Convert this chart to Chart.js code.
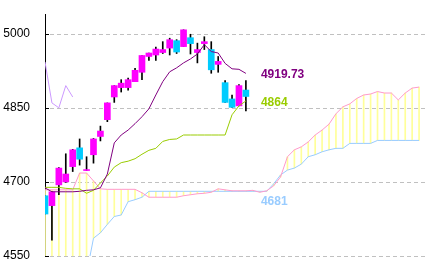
<!DOCTYPE html>
<html>
<head>
<meta charset="utf-8">
<script src="https://cdn.jsdelivr.net/npm/chart.js@4/dist/chart.umd.min.js"></script>
<style>
  body { margin: 0; background: #fff; }
</style>
</head>
<body>
<canvas id="chart" width="432" height="270"></canvas>
<script>
// daily candles, index 0..29
const opens  = [4672, 4652, 4694, 4700, 4731, 4769, 4723, 4755, 4792, 4826, 4872, 4891, 4891, 4903, 4922, 4954, 4957, 4962, 4971, 4986, 4974, 4992, 4962, 4980, 4968, 4938, 4901, 4868, 4854, 4886];
const highs  = [4672, 4681, 4729, 4757, 4766, 4787, 4751, 4788, 4813, 4860, 4895, 4907, 4910, 4930, 4956, 4961, 4973, 4984, 4991, 4988, 5008, 4999, 4981, 4994, 4984, 4954, 4905, 4876, 4897, 4905];
const lows   = [4635, 4582, 4674, 4699, 4721, 4734, 4723, 4738, 4783, 4822, 4861, 4882, 4886, 4903, 4907, 4946, 4946, 4960, 4957, 4960, 4974, 4959, 4941, 4968, 4920, 4922, 4861, 4851, 4854, 4844];
const closes = [4635, 4680, 4728, 4716, 4765, 4746, 4725, 4787, 4803, 4860, 4895, 4900, 4907, 4926, 4956, 4961, 4969, 4968, 4988, 4963, 5008, 4980, 4968, 4984, 4927, 4944, 4861, 4851, 4895, 4873];

// ichimoku lines
const tenkan = [4688, 4680, 4680, 4680, 4680, 4681, 4683, 4684, 4688, 4716, 4779, 4795, 4805, 4818, 4832, 4848, 4876, 4903, 4923, 4931, 4941, 4949, 4959, 4978, 4964, 4961, 4940, 4929, 4928, 4919.73];
const kijun  = [4689, 4689, 4689, 4687, 4686, 4686, 4677, 4683, 4698, 4712, 4730, 4739, 4742, 4747, 4756, 4764, 4768, 4782, 4786, 4787, 4795, 4795, 4795, 4795, 4795, 4795, 4795, 4836, 4854, 4864];
const chikou = [4943, 4860, 4850, 4895, 4872];
const spanA  = [4684, 4684, 4684, 4684, 4684, 4718, 4718, 4702, 4686, 4685, 4685, 4685, 4685, 4685, 4678, 4669, 4669, 4669, 4669, 4669,
                4672, 4674, 4676, 4677, 4679, 4686, 4684, 4682, 4682, 4682, 4683, 4679, 4682, 4692, 4710, 4751, 4765, 4771, 4781, 4795,
                4805, 4817, 4838, 4852, 4858, 4869, 4876, 4878, 4883, 4880, 4880, 4866, 4880, 4890, 4892];
const spanB  = [4505, 4505, 4505, 4505, 4505, 4505, 4514, 4586, 4597, 4614, 4630, 4633, 4660, 4664, 4669, 4681, 4681, 4681, 4681, 4681,
                4681, 4681, 4681, 4681, 4681, 4681, 4681, 4681, 4681, 4681, 4681, 4681, 4681, 4696, 4714, 4724, 4728, 4736, 4751, 4755,
                4761, 4765, 4768, 4768, 4778, 4778, 4778, 4778, 4784, 4784, 4784, 4784, 4784, 4784, 4784];

const yTicks = [4550, 4700, 4850, 5000];

const pt = arr => arr.map((v, i) => ({ x: i, y: v }));
const last = closes.length - 1;
const candleColors = closes.map((c, i) => c >= opens[i] ? '#ff00ff' : '#00ccff');

const lineSet = (data, color, order) => ({
  type: 'line', data: pt(data), borderColor: color, borderWidth: 1,
  pointRadius: 0, fill: false, tension: 0, clip: 0, order
});

const overlay = {
  id: 'overlay',
  beforeDatasetsDraw(chart) {
    const { ctx, chartArea: a, scales: { y } } = chart;
    ctx.save();
    ctx.lineWidth = 1;
    yTicks.forEach(v => {
      const py = Math.round(y.getPixelForValue(v)) + 0.5;
      ctx.setLineDash([4, 3]);
      ctx.strokeStyle = '#c0c0c0';
      ctx.beginPath();
      ctx.moveTo(a.left + 5, py);
      ctx.lineTo(a.right, py);
      ctx.stroke();
      ctx.setLineDash([]);
      ctx.strokeStyle = '#000';
      ctx.beginPath();
      ctx.moveTo(a.left, py);
      ctx.lineTo(a.left + 4, py);
      ctx.stroke();
    });
    ctx.restore();
  },
  afterDatasetsDraw(chart) {
    const { ctx, scales: { x, y } } = chart;
    const tags = [
      [tenkan[last].toFixed(2), tenkan[last], '#800080', 1],
      [String(kijun[last]), kijun[last], '#99cc00', 2],
      [String(spanB[last]), spanB[last], '#99ccff', 10]
    ];
    ctx.save();
    ctx.font = 'bold 12px "Liberation Sans", Arial, sans-serif';
    ctx.textBaseline = 'middle';
    ctx.textAlign = 'left';
    tags.forEach(([txt, v, color, dy]) => {
      ctx.fillStyle = color;
      ctx.fillText(txt, x.getPixelForValue(last) + 15, y.getPixelForValue(v) + dy);
    });
    ctx.restore();
  }
};

Chart.defaults.font.family = '"Liberation Sans", Arial, sans-serif';

new Chart(document.getElementById('chart'), {
  type: 'bar',
  data: {
    datasets: [
      {
        // cloud hatching
        data: spanA.map((v, i) => ({ x: i, y: [v, spanB[i]] })),
        backgroundColor: '#ffff99', barThickness: 1, grouped: false, clip: 0, order: 10
      },
      lineSet(spanA, '#ff99cc', 8),
      lineSet(spanB, '#99ccff', 8),
      {
        // wicks
        data: highs.map((h, i) => ({ x: i, y: [lows[i], h] })),
        backgroundColor: '#000', barThickness: 1, grouped: false, clip: 0, order: 5
      },
      {
        // bodies
        data: opens.map((o, i) => ({ x: i, y: [o, closes[i]] })),
        backgroundColor: candleColors, barThickness: 6, grouped: false, clip: 0, order: 4
      },
      lineSet(chikou, '#cc99ff', 2),
      lineSet(kijun, '#99cc00', 2),
      lineSet(tenkan, '#800080', 1)
    ]
  },
  options: {
    responsive: false,
    animation: false,
    layout: { padding: { left: 0, right: 6, top: 14, bottom: 14 } },
    plugins: { legend: { display: false }, tooltip: { enabled: false } },
    scales: {
      x: { type: 'linear', min: 0, max: 55, offset: false, display: false },
      y: {
        min: 4550,
        max: 5040,
        beginAtZero: false,
        afterBuildTicks: axis => { axis.ticks = yTicks.map(v => ({ value: v })); },
        afterFit: axis => { axis.width = 45; },
        grid: { display: false, drawTicks: true, tickLength: 15 },
        border: { display: true, color: '#000', width: 1 },
        ticks: { padding: 0, color: '#000', font: { size: 12 }, callback: v => String(v) }
      }
    }
  },
  plugins: [overlay]
});
</script>
</body>
</html>
